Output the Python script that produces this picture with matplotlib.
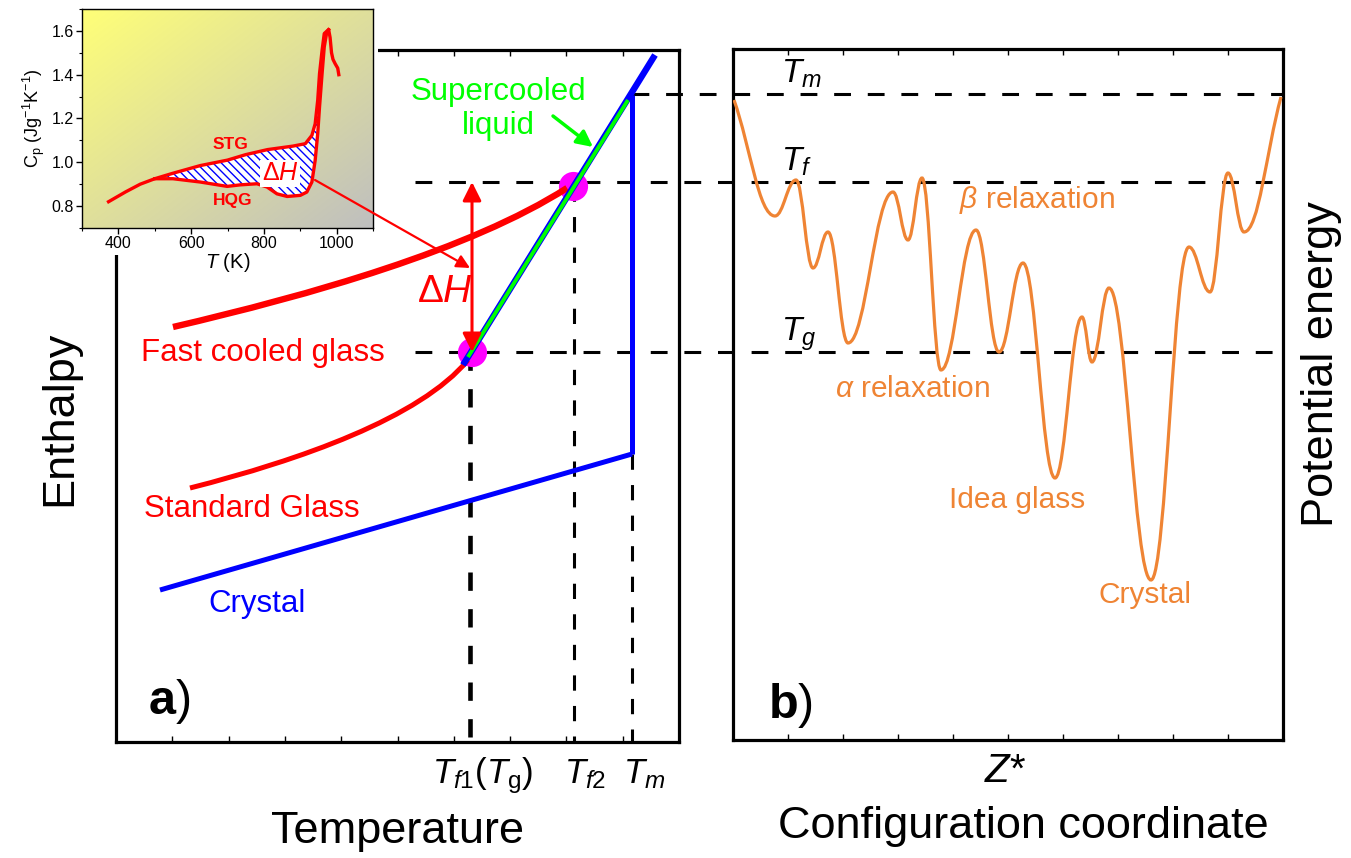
import numpy as np
import matplotlib
matplotlib.use("Agg")
import matplotlib.pyplot as plt
from matplotlib.path import Path
from matplotlib.patches import PathPatch, Rectangle
from matplotlib.ticker import MultipleLocator

W, H = 1351, 858

plt.rcParams['font.family'] = ['Liberation Sans', 'DejaVu Sans']
plt.rcParams['mathtext.fontset'] = 'custom'
plt.rcParams['mathtext.rm'] = 'Liberation Sans'
plt.rcParams['mathtext.it'] = 'Liberation Sans:italic'
plt.rcParams['mathtext.bf'] = 'Liberation Sans:bold'
plt.rcParams['hatch.linewidth'] = 1.0

# --- inset: DSC curves (T in K, Cp in J/gK) ---
stg_T = [373, 420, 460, 500, 550, 625, 700, 750, 810, 880, 914, 932, 941, 948, 953,
         960, 966, 978, 982, 986, 990, 996, 1003, 1006]
stg_Cp = [0.82, 0.865, 0.90, 0.925, 0.95, 0.985, 1.01, 1.035, 1.058, 1.074, 1.085,
          1.123, 1.176, 1.283, 1.405, 1.511, 1.588, 1.606, 1.57, 1.50, 1.47, 1.45, 1.43, 1.40]
hqg_T = [500, 550, 625, 699, 735, 781, 809, 836, 864, 900, 918, 932, 941, 948, 953,
         960, 966, 973, 978]
hqg_Cp = [0.925, 0.925, 0.91, 0.89, 0.897, 0.902, 0.887, 0.856, 0.844, 0.849, 0.864,
          0.91, 1.009, 1.13, 1.253, 1.405, 1.527, 1.595, 1.606]

# --- panel a: schematic enthalpy vs temperature (schematic units) ---
crystal_T = [160, 632]
crystal_H = [590, 454]
melt_T = [632, 632]
melt_H = [454, 95]
liquid_T = [463, 655]
liquid_H = [365, 55]
supercooled_T = [468, 628]
supercooled_H = [357, 100]
fast_T = [173, 310, 470, 567]          # Bezier control points
fast_H = [327, 295, 250, 188]
std_T = [190, 300, 420, 468]
std_H = [488, 460, 418, 360]
fictive_T = [472, 573]
fictive_H = [352, 186]
tick_T = [470, 574, 632]
tick_names = [r'$T_{f1}$($T_{\rm g}$)', r'$T_{f2}$', r'$T_m$']

# --- panel b: potential energy landscape extrema ---
land_z = [734, 775, 796, 813, 828, 848, 893, 908, 922, 941, 976, 999, 1023, 1055,
          1082, 1092, 1109, 1151, 1189, 1210, 1228, 1244, 1281]
land_e = [100, 216, 180, 268, 232, 343, 192, 240, 178, 370, 230, 352, 263, 478,
          317, 362, 288, 580, 247, 292, 173, 232, 97]
level_names = [r'$T_m$', r'$T_f$', r'$T_g$']
level_e = [94, 182, 352]
level_start = [632, 415, 415]

RED = '#FF0000'
BLUE = '#0000FF'
GREEN = '#00FF00'
ORANGE = '#EF8434'


def box(x0, y0, x1, y1):
    return [x0 / W, 1 - y1 / H, (x1 - x0) / W, (y1 - y0) / H]


def bezier(xs, ys):
    verts = list(zip(xs, ys))
    return Path(verts, [Path.MOVETO] + [Path.CURVE4] * 3)


def landscape_path(xs, ys, k=0.4):
    verts = [(xs[0], ys[0])]
    codes = [Path.MOVETO]
    n = len(xs)
    for i in range(n - 1):
        x0, y0, x1, y1 = xs[i], ys[i], xs[i + 1], ys[i + 1]
        dx, dy = x1 - x0, y1 - y0
        c1 = (x0 + k * dx, y0 + (k * dy if i == 0 else 0))
        c2 = (x1 - k * dx, y1 - (k * dy if i == n - 2 else 0))
        verts += [c1, c2, (x1, y1)]
        codes += [Path.CURVE4] * 3
    return Path(verts, codes)


fig = plt.figure(figsize=(W / 100, H / 100), dpi=100)

back = fig.add_axes([0, 0, 1, 1], zorder=0.5)
back.set_xlim(0, W)
back.set_ylim(H, 0)
back.axis('off')

ax_a = fig.add_axes(box(116, 50, 679, 742), zorder=1)
ax_b = fig.add_axes(box(733, 49, 1283, 740), zorder=1)
for ax, (x0, x1, y0, y1) in [(ax_a, (116, 679, 50, 742)), (ax_b, (733, 1283, 49, 740))]:
    ax.set_facecolor('none')
    ax.set_xlim(x0, x1)
    ax.set_ylim(y1, y0)
    ax.set_xticks(np.linspace(x0, x1, 11)[1:-1])
    ax.set_yticks([])
    ax.tick_params(axis='x', direction='in', length=4, width=1, top=True,
                   labelbottom=False)
    for s in ax.spines.values():
        s.set_linewidth(2.3)

front = fig.add_axes([0, 0, 1, 1], zorder=10)
front.set_xlim(0, W)
front.set_ylim(H, 0)
front.axis('off')

# horizontal level lines running across both panels
for e, x0 in zip(level_e, level_start):
    back.plot([x0, 1283], [e, e], color='k', lw=2.2, ls=(0, (5.5, 5.5)))

# ---------------- panel a ----------------
ax_a.plot([tick_T[0]] * 2, [fictive_H[0], 742], color='k', lw=3.3, ls=(0, (4, 4)), zorder=1)
ax_a.plot([tick_T[1]] * 2, [fictive_H[1], 742], color='k', lw=2.2, ls=(0, (5, 5)), zorder=1)
ax_a.plot([tick_T[2]] * 2, [crystal_H[1], 742], color='k', lw=2.2, ls=(0, (5, 5)), zorder=1)

ax_a.plot(crystal_T, crystal_H, color=BLUE, lw=3.6, solid_capstyle='butt', zorder=3)
ax_a.plot(melt_T, melt_H, color=BLUE, lw=3.6, solid_capstyle='butt', zorder=3)
ax_a.plot(fictive_T, fictive_H, 'o', color='#FF00FF', ms=21, mew=0, zorder=2)
ax_a.plot(liquid_T, liquid_H, color=BLUE, lw=4.6, solid_capstyle='butt', zorder=4)
ax_a.plot(supercooled_T, supercooled_H, color=GREEN, lw=2.8, solid_capstyle='butt', zorder=5)
ax_a.add_patch(PathPatch(bezier(fast_T, fast_H), fill=False, color=RED, lw=4.6,
                         capstyle='butt', zorder=3))
ax_a.add_patch(PathPatch(bezier(std_T, std_H), fill=False, color=RED, lw=3.6,
                         capstyle='butt', zorder=3))
ax_a.annotate('', xy=(fictive_T[0], level_e[1]), xytext=(fictive_T[0], level_e[2]),
              arrowprops=dict(arrowstyle='<|-|>', color=RED, lw=2.2,
                              mutation_scale=28, shrinkA=0, shrinkB=0), zorder=6)
ax_a.annotate('', xy=(593, 147), xytext=(553, 116),
              arrowprops=dict(arrowstyle='-|>', color=GREEN, lw=2.5,
                              mutation_scale=24, shrinkA=0, shrinkB=0), zorder=6)

front.annotate('', xy=(470, 268), xytext=(315, 180),
               arrowprops=dict(arrowstyle='-|>', color=RED, lw=1.6,
                               mutation_scale=20, shrinkA=0, shrinkB=0))

ax_a.text(498, 100, 'Supercooled', color=GREEN, fontsize=22.5, ha='center', va='baseline')
ax_a.text(498, 134, 'liquid', color=GREEN, fontsize=22.5, ha='center', va='baseline')
ax_a.text(417, 302, r'$\Delta H$', color=RED, fontsize=28, ha='left', va='baseline')
ax_a.text(263, 361, 'Fast cooled glass', color=RED, fontsize=22.5, ha='center', va='baseline')
ax_a.text(252, 517, 'Standard Glass', color=RED, fontsize=22.5, ha='center', va='baseline')
ax_a.text(257, 612, 'Crystal', color=BLUE, fontsize=22.5, ha='center', va='baseline')
ax_a.text(148, 714, r'$\mathbf{a}$)', fontsize=35, ha='left', va='baseline')

for t, name in zip([483, 585, 644], tick_names):
    front.text(t, 783, name, fontsize=25, ha='center', va='baseline')
front.text(398, 843, 'Temperature', fontsize=32.5, ha='center', va='baseline')
front.text(60, 418, 'Enthalpy', fontsize=32.5, rotation=90, ha='center', va='center')

# ---------------- panel b ----------------
ax_b.add_patch(PathPatch(landscape_path(land_z, land_e), fill=False, color=ORANGE,
                         lw=2.3, zorder=3))
for name, e in zip(level_names, level_e):
    ax_b.text(781, e - 11, name, fontsize=24, ha='left', va='baseline')
ax_b.text(1037, 208, r'$\beta$ relaxation', color=ORANGE, fontsize=21.5, ha='center', va='baseline')
ax_b.text(913, 397, r'$\alpha$ relaxation', color=ORANGE, fontsize=21.5, ha='center', va='baseline')
ax_b.text(1017, 508, 'Idea glass', color=ORANGE, fontsize=21.5, ha='center', va='baseline')
ax_b.text(1145, 603, 'Crystal', color=ORANGE, fontsize=21.5, ha='center', va='baseline')
ax_b.text(768, 718, r'$\mathbf{b}$)', fontsize=35, ha='left', va='baseline')

front.text(1005, 782, r'$Z$*', fontsize=29, ha='center', va='baseline')
front.text(1023, 838, 'Configuration coordinate', fontsize=32.5, ha='center', va='baseline')
front.text(1322, 364, 'Potential energy', fontsize=32.5, rotation=90, ha='center', va='center')

# ---------------- inset ----------------
fig.patches.append(Rectangle((0, 1 - 255 / H), 378 / W, 255 / H, transform=fig.transFigure,
                             facecolor='white', edgecolor='none', zorder=3))
ins = fig.add_axes(box(82, 9, 373, 228), zorder=5)
u = np.linspace(0, 1, 64)
s = (u[:, None] + u[None, :]) / 2
tl = np.array([1.0, 1.0, 0.47])
br = np.array([0.75, 0.75, 0.75])
grad = tl[None, None, :] * (1 - s[:, :, None]) + br[None, None, :] * s[:, :, None]
ins.imshow(grad, extent=(300, 1100, 0.7, 1.7), aspect='auto', interpolation='bilinear',
           zorder=0)
ins.set_xlim(300, 1100)
ins.set_ylim(0.7, 1.7)
poly_T = stg_T[3:18] + hqg_T[::-1]
poly_Cp = stg_Cp[3:18] + hqg_Cp[::-1]
ins.fill(poly_T, poly_Cp, facecolor='white', edgecolor=BLUE, hatch='\\\\\\\\', lw=0, zorder=1)
ins.plot(stg_T, stg_Cp, color=RED, lw=2.4, zorder=2)
ins.plot(hqg_T, hqg_Cp, color=RED, lw=2.4, zorder=2)
ins.text(708, 1.079, 'STG', color=RED, fontsize=12.5, fontweight='bold', ha='center', va='center')
ins.text(715, 0.826, 'HQG', color=RED, fontsize=12.5, fontweight='bold', ha='center', va='center')
ins.text(845, 0.95, r'$\Delta H$', color=RED, fontsize=18, ha='center', va='center',
         bbox=dict(facecolor='white', edgecolor='none', pad=1))
ins.set_xticks([400, 600, 800, 1000])
ins.set_yticks([0.8, 1.0, 1.2, 1.4, 1.6])
ins.xaxis.set_minor_locator(MultipleLocator(100))
ins.yaxis.set_minor_locator(MultipleLocator(0.1))
ins.tick_params(which='major', direction='out', length=4, width=1, labelsize=11.5, pad=2)
ins.tick_params(which='minor', direction='out', length=2.5, width=0.8)
for sp in ins.spines.values():
    sp.set_linewidth(1.0)
ins.set_xlabel(r'$T$ (K)', fontsize=14.5, labelpad=0)
ins.set_ylabel(r'C$_{\rm p}$ (Jg$^{-1}$K$^{-1}$)', fontsize=13, labelpad=3)

fig.savefig('out.png', dpi=100)
